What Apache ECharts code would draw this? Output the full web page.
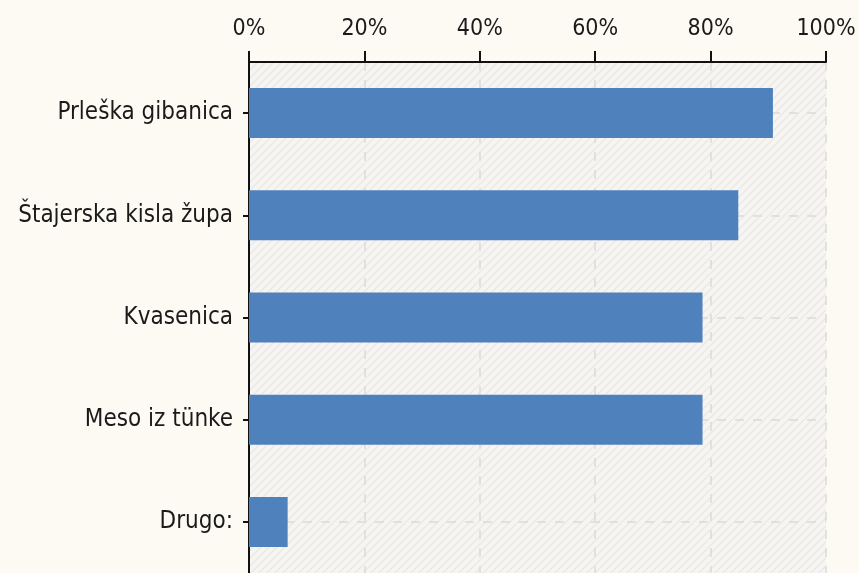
<!DOCTYPE html>
<html>
<head>
<meta charset="utf-8">
<script src="https://cdn.jsdelivr.net/npm/echarts@6/dist/echarts.min.js"></script>
<style>
html,body{margin:0;padding:0;background:#fdfaf4;}
#chart{width:859px;height:573px;}
</style>
</head>
<body>
<div id="chart"></div>
<script>
const categories = ['Prleška gibanica', 'Štajerska kisla župa', 'Kvasenica', 'Meso iz tünke', 'Drugo:'];
const values = [90.8, 84.8, 78.6, 78.6, 6.7];
const tickLabels = ['0%', '20%', '40%', '60%', '80%', '100%'];

function hatch() {
  const c = document.createElement('canvas');
  c.width = 8; c.height = 8;
  const g = c.getContext('2d');
  g.fillStyle = '#f6f5f2';
  g.fillRect(0, 0, 8, 8);
  g.strokeStyle = '#eae9e6';
  g.lineWidth = 1.4;
  g.beginPath();
  g.moveTo(-2, 10); g.lineTo(10, -2);
  g.moveTo(-6, 6); g.lineTo(6, -6);
  g.moveTo(2, 14); g.lineTo(14, 2);
  g.stroke();
  return c;
}

const chart = echarts.init(document.getElementById('chart'));
const font = 'DejaVu Sans Condensed, DejaVu Sans, sans-serif';
chart.setOption({
  backgroundColor: '#fdfaf4',
  animation: false,
  grid: {
    left: 249, right: 33, top: 62, bottom: -4,
    show: true, borderWidth: 0,
    backgroundColor: { image: hatch(), repeat: 'repeat' }
  },
  xAxis: {
    type: 'value', position: 'top', min: 0, max: 100, interval: 20,
    axisLine: { show: true, lineStyle: { color: '#111', width: 2 } },
    axisTick: { show: true, length: 11, lineStyle: { color: '#111', width: 2 } },
    axisLabel: {
      margin: 21, color: '#1a1a1a', fontSize: 23, fontFamily: font,
      formatter: function (v) { return tickLabels[Math.round(v / 20)]; }
    },
    splitLine: { show: true, lineStyle: { color: '#dadada', type: [9, 9], width: 1.5 } }
  },
  yAxis: {
    type: 'category', inverse: true, data: categories,
    axisLine: { show: true, lineStyle: { color: '#111', width: 2 } },
    axisTick: { show: true, alignWithLabel: true, length: 6, lineStyle: { color: '#111', width: 2 } },
    axisLabel: { margin: 16, color: '#1a1a1a', fontSize: 24, fontFamily: font },
    splitLine: { show: true, alignWithLabel: true, lineStyle: { color: '#dadada', type: [9, 9], width: 1.5 } }
  },
  series: [{
    type: 'bar', data: values, barWidth: 50,
    itemStyle: { color: '#4f81bd' }
  }]
});
</script>
</body>
</html>
